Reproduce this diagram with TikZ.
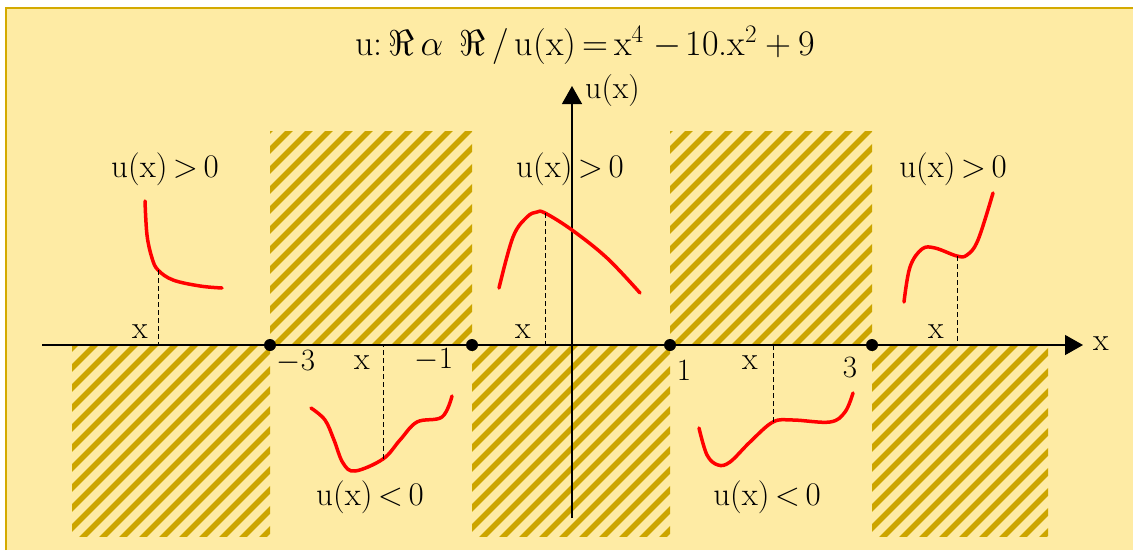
\RequirePackage{fix-cm}
\documentclass[tikz,border=0pt]{standalone}
\usepackage{fontspec}
\usetikzlibrary{arrows.meta}
\definecolor{bg}{HTML}{FEEBA4}
\definecolor{gold}{HTML}{D4AA00}
\definecolor{hatchc}{HTML}{CCA500}
\begin{document}
\begin{tikzpicture}[x=1pt,y=-1pt,
  lbl/.style={font=\fontsize{33}{36}\selectfont, inner sep=0pt},
  nlbl/.style={font=\fontsize{31}{34}\selectfont, inner sep=0pt},
  xlbl/.style={font=\fontsize{32}{36}\selectfont, inner sep=0pt},
  ttl/.style={font=\fontsize{36}{40}\selectfont, inner sep=0pt},
  curve/.style={red, line width=3.5pt, line cap=round},
  guide/.style={line width=1pt, dash pattern=on 5pt off 3pt},
  axis/.style={line width=1.4pt, -{Triangle[length=18pt,width=20pt]}},
  dot/.style={circle, fill=black, minimum size=12pt, inner sep=0pt},
  hatchline/.style={hatchc, line width=5.5pt}
]
\useasboundingbox (0,0) rectangle (1133,550);
\fill[white] (0,0) rectangle (1133,550);
\fill[bg] (6,8) rectangle (1133,550);
\draw[gold, line width=2.5pt] (6,550) -- (6,8) -- (1133,8);
% hatched regions
\foreach \a/\b/\c/\d in {72/345/270/536, 270/131/472/345, 472/345/670/536, 670/131/872/345, 872/345/1048/536}{
  \begin{scope}
    \clip (\a,\b) rectangle (\c,\d);
    \foreach \i in {100,120,...,1700} \draw[hatchline] (\i,0) -- ++(-600,600);
  \end{scope}
}
% axes
\coordinate (xs) at (42,345);
\coordinate (xe) at (1083,345);
\draw[axis] (xs) -- (xe);
\node[xlbl, anchor=west] (xl) at (1093,344) {x};
\coordinate (ys) at (572,518);
\coordinate (ye) at (572,86);
\draw[axis] (ys) -- (ye);
\node[xlbl, anchor=west] (yl) at (585,91) {u(x)};
% title
\node[ttl] (title) at (585,45) {u:\,$\Re\,\alpha$\hspace{16pt}$\Re$\hspace{7pt}/\hspace{6pt}u(x)\,=\,x$^{4}$\hspace{10pt}$-$\hspace{4pt}10.x$^{2}$\hspace{8pt}$+$\hspace{7pt}9};
% dots
\node[dot] (d1) at (270,345) {};
\node[dot] (d2) at (472,345) {};
\node[dot] (d3) at (670,345) {};
\node[dot] (d4) at (872,345) {};
% curves
\draw[curve] plot[smooth, tension=0.6] coordinates {(145,201) (147,235) (152,258) (158,270) (173,280) (200,286) (222,288)};
\draw[curve] plot[smooth, tension=0.6] coordinates {(311,408) (325,420) (334,440) (343,463) (355,471) (383,459) (400,440) (417,422) (442,417) (452,396)};
\draw[curve] plot[smooth, tension=0.6] coordinates {(499,288) (513,237) (527,217) (537,212) (545,213) (572,230) (607,258) (640,293)};
\draw[curve] plot[smooth, tension=0.6] coordinates {(699,428) (707,455) (718,465) (730,462) (750,442) (773,422) (793,420) (830,422) (845,412) (853,393)};
\draw[curve] plot[smooth, tension=0.6] coordinates {(904,302) (910,267) (922,249) (935,248) (957,256) (967,255) (978,240) (993,193)};
% guides
\coordinate (p1) at (158,270); \coordinate (q1) at (158,345);
\coordinate (p2) at (383,459); \coordinate (q2) at (383,345);
\coordinate (p3) at (545,213); \coordinate (q3) at (545,345);
\coordinate (p4) at (773,422); \coordinate (q4) at (773,345);
\coordinate (p5) at (957,256); \coordinate (q5) at (957,345);
\foreach \k in {1,...,5} \draw[guide] (p\k) -- (q\k);
% labels
\node[lbl] (g1) at (165,169) {u(x)\,$>$\,0};
\node[lbl] (g2) at (570,169) {u(x)\,$>$\,0};
\node[lbl] (g3) at (953,169) {u(x)\,$>$\,0};
\node[lbl] (l1) at (370,497) {u(x)\,$<$\,0};
\node[lbl] (l2) at (767,497) {u(x)\,$<$\,0};
\node[xlbl] (x1) at (140,332) {x};
\node[xlbl] (x2) at (523,332) {x};
\node[xlbl] (x3) at (936,332) {x};
\node[xlbl] (x4) at (362,363) {x};
\node[xlbl] (x5) at (750,363) {x};
\node[nlbl] (m3) at (296,362) {$-$3};
\node[nlbl] (m1) at (434,360) {$-$1};
\node[nlbl] (n1) at (684,370) {1};
\node[nlbl] (n3) at (850,367) {3};
\end{tikzpicture}
\end{document}
